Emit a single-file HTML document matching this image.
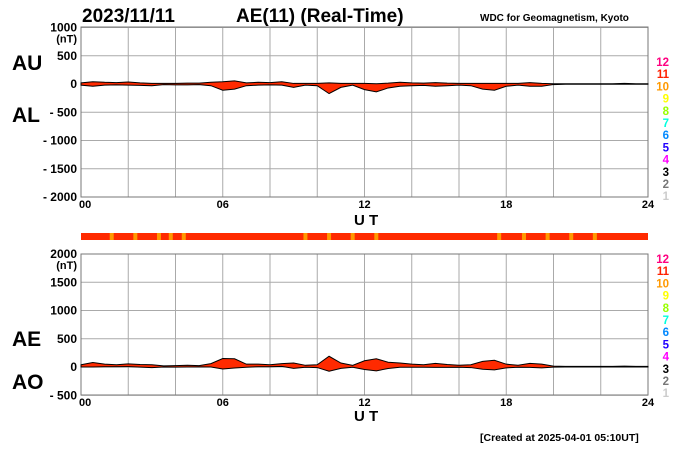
<!DOCTYPE html>
<html><head><meta charset="utf-8"><style>
html,body{margin:0;padding:0;background:#fff;}
svg{display:block;font-family:"Liberation Sans",Arial,sans-serif;font-weight:bold;}
</style></head><body>
<svg id="c" width="700" height="450" viewBox="0 0 700 450">
<text x="82" y="22" font-size="19">2023/11/11</text>
<text x="236" y="22" font-size="19">AE(11) (Real-Time)</text>
<text x="480" y="21" font-size="10">WDC for Geomagnetism, Kyoto</text>
<text x="12" y="70" font-size="21">AU</text>
<text x="12" y="122" font-size="21">AL</text>
<text x="12" y="346" font-size="21">AE</text>
<text x="12" y="389" font-size="21">AO</text>
<text x="354" y="225" font-size="15">U T</text>
<text x="354" y="421" font-size="15">U T</text>
<text x="480" y="441" font-size="10.5">[Created at 2025-04-01 05:10UT]</text>
</svg>
<script>
const hours=[0,0.5,1,1.5,2,2.5,3,3.5,4,4.5,5,5.5,6,6.5,7,7.5,8,8.5,9,9.5,10,10.5,11,11.5,12,12.5,13,13.5,14,14.5,15,15.5,16,16.5,17,17.5,18,18.5,19,19.5,20,20.5,21,21.5,22,22.5,23,23.5,24];
const auValues=[20,40,30,25,35,20,10,10,10,15,15,30,40,55,20,30,25,40,10,10,10,20,10,10,10,5,15,30,20,15,25,15,10,10,10,10,10,10,25,10,5,5,5,5,5,5,10,5,5];
const alValues=[-20,-40,-20,-15,-20,-25,-30,-10,-15,-15,-10,-30,-110,-90,-30,-20,-15,-20,-60,-20,-30,-170,-60,-20,-100,-140,-70,-40,-30,-25,-40,-30,-20,-30,-90,-110,-40,-20,-40,-40,-10,-5,-5,-5,-5,-5,-5,-5,-5];
const topTicks=[1000,500,0,-500,-1000,-1500,-2000];
const topTickLabels=["1000","500","0","- 500","- 1000","- 1500","- 2000"];
const botTicks=[2000,1500,1000,500,0,-500];
const botTickLabels=["2000","1500","1000","500","0","- 500"];
const xTicks=[0,6,12,18,24];
const xTickLabels=["00","06","12","18","24"];
const orangeHours=[1.3,2.3,3.3,3.8,4.35,9.5,10.5,11.5,12.5,17.7,18.75,19.75,20.75,21.75];
const legendLevels=["12","11","10","9","8","7","6","5","4","3","2","1"];
const legendColors=["#ff0080","#ff2000","#ff9900","#ffff00","#99ff00","#00ffdd","#0088ff","#2200ff","#ff00ff","#000000","#777777","#cccccc"];

const svg=document.getElementById('c');
const NS='http://www.w3.org/2000/svg';
const X0=81,X1=648;
const xs=h=>X0+h/24*(X1-X0);
const yTop=v=>84-v*(113/2000);
const yBot=v=>367-v*(113/2000);
function mk(tag,attrs,parent){const e=document.createElementNS(NS,tag);for(const k in attrs)e.setAttribute(k,attrs[k]);(parent||svg).appendChild(e);return e;}

function panel(name,yf,ticks,labels,top,bottom,upper,lower,legendTop){
  const g=mk('g',{});
  
  
  for(let h=0;h<=24;h+=2){const l=mk('line',{x1:xs(h),x2:xs(h),y1:top,y2:bottom,stroke:'#aaa','stroke-width':1},g);
    
    }
  ticks.forEach((v,i)=>{const y=yf(v);
    const l=mk('line',{x1:X0,x2:X1,y1:y,y2:y,stroke:'#aaa','stroke-width':1},g);
    
    
    const t=mk('text',{x:77,y:y+4,'font-size':12,'text-anchor':'end'},g);t.textContent=labels[i];
    
    
    if(i===0){const u=mk('text',{x:77,y:y+15,'font-size':11,'text-anchor':'end'},g);u.textContent='(nT)';
      
      }
  });
  mk('rect',{x:X0,y:top,width:X1-X0,height:bottom-top,fill:'none',stroke:'#777'},g);
  let d='';
  hours.forEach((h,i)=>{d+=(i?'L':'M')+xs(h)+' '+yf(upper[i]);});
  for(let i=hours.length-1;i>=0;i--)d+='L'+xs(hours[i])+' '+yf(lower[i]);
  d+='Z';
  const a=mk('path',{d:d,fill:'#ff2a00',stroke:'#000','stroke-width':1},g);
  
  
  xTicks.forEach((h,i)=>{const t=mk('text',{x:i===0?X0-2:xs(h),y:bottom+11,'font-size':11,'text-anchor':i===0?'start':'middle'},g);
    t.textContent=xTickLabels[i];
    
    });
  legendLevels.forEach((s,i)=>{const t=mk('text',{x:669,y:legendTop+i*12.2,'font-size':11.5,'text-anchor':'end',fill:legendColors[i]},g);
    t.textContent=s;
    
    });
}
panel('au-al',yTop,topTicks,topTickLabels,27,197,auValues,alValues,66);
const aeValues=auValues.map((u,i)=>u-alValues[i]);
const aoValues=auValues.map((u,i)=>(u+alValues[i])/2);
panel('ae-ao',yBot,botTicks,botTickLabels,254,395,aeValues,aoValues,263);

const bar=mk('rect',{x:X0,y:233,width:X1-X0,height:7,fill:'#ff2a00'});


orangeHours.forEach(h=>{const r=mk('rect',{x:xs(h)-2,y:233,width:4,height:7,fill:'#ff9900'});
  
  });
</script>
</body></html>
